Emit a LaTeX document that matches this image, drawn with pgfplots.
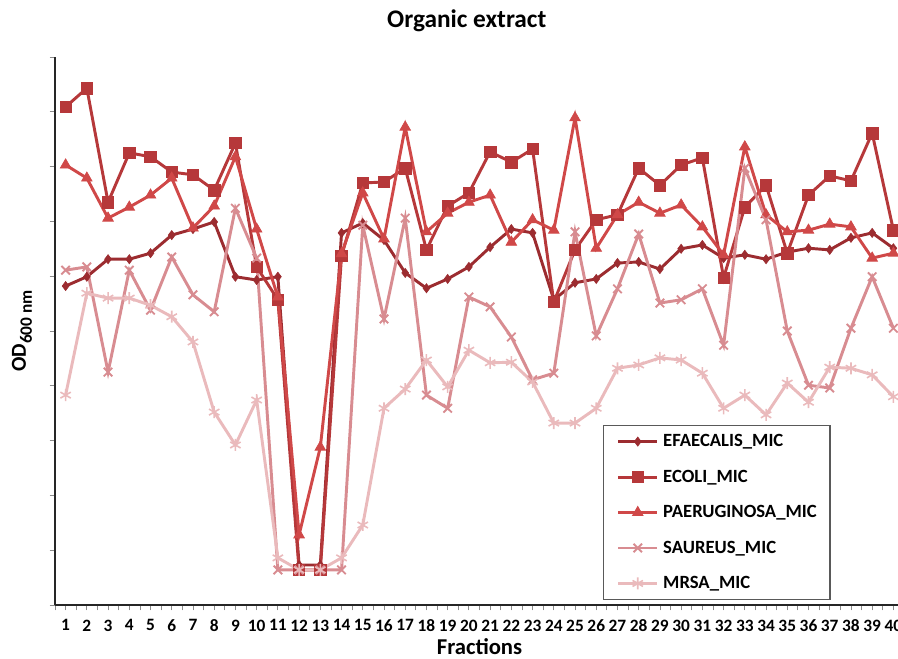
\documentclass[border=0pt]{standalone}
\usepackage{fontspec}
\setmainfont{Carlito}
\usepackage{pgfplots}
\usepackage{pgfplotstable}
\pgfplotsset{compat=1.18}

\definecolor{efa}{RGB}{156,44,48}
\definecolor{eco}{RGB}{182,56,58}
\definecolor{pae}{RGB}{208,72,72}
\definecolor{sau}{RGB}{216,140,145}
\definecolor{mrs}{RGB}{234,186,188}

% OD600 per fraction (axis units 0..10)
\pgfplotstableread{
x  efa   eco   pae   sau   mrs
1  5.82  9.09  8.03  6.11  3.83
2  5.99  9.43  7.79  6.17  5.69
3  6.31  7.35  7.06  4.25  5.60
4  6.31  8.25  7.26  6.11  5.60
5  6.42  8.18  7.48  5.38  5.47
6  6.75  7.90  7.79  6.35  5.26
7  6.86  7.85  6.88  5.66  4.80
8  6.99  7.57  7.28  5.35  3.52
9  5.99  8.43  8.18  7.24  2.92
10 5.93  6.17  6.86  6.33  3.74
11 5.99  5.57  5.62  0.64  0.86
12 0.73  0.64  1.28  0.64  0.64
13 0.73  0.64  2.88  0.64  0.64
14 6.79  6.37  6.41  0.64  0.86
15 6.97  7.70  7.52  6.93  1.46
16 6.66  7.72  6.68  5.22  3.59
17 6.06  7.97  8.72  7.06  3.94
18 5.78  6.48  6.81  3.83  4.47
19 5.95  7.28  7.15  3.59  3.98
20 6.17  7.52  7.35  5.62  4.65
21 6.53  8.27  7.48  5.44  4.42
22 6.86  8.08  6.62  4.89  4.43
23 6.79  8.32  7.03  4.11  4.07
24 5.57  5.53  6.84  4.23  3.32
25 5.88  6.48  8.89  6.81  3.32
26 5.95  7.03  6.51  4.91  3.59
27 6.24  7.12  7.12  5.77  4.32
28 6.26  7.97  7.35  6.77  4.38
29 6.13  7.66  7.15  5.51  4.51
30 6.50  8.03  7.30  5.57  4.47
31 6.57  8.16  6.90  5.77  4.23
32 6.33  5.97  6.39  4.74  3.59
33 6.39  7.26  8.36  7.97  3.83
34 6.31  7.66  7.12  7.03  3.47
35 6.44  6.42  6.81  5.00  4.05
36 6.51  7.48  6.84  4.01  3.70
37 6.48  7.83  6.95  3.96  4.34
38 6.70  7.74  6.90  5.05  4.32
39 6.79  8.61  6.33  5.99  4.20
40 6.51  6.84  6.42  5.05  3.80
}\data

\begin{document}
\begin{tikzpicture}
\begin{axis}[
  scale only axis,
  width=636.75pt, height=411pt,
  xmin=0.5, xmax=40.5, ymin=0, ymax=10,
  axis x line=bottom, axis y line=left,
  axis line style={-, line width=1.1pt, black!85},
  xtick={1,...,40},
  minor xtick={0.5,1.5,...,40.5},
  ytick={0,...,10}, yticklabels={},
  tick align=outside,
  major tick length=4pt, minor tick length=4pt,
  tick style={black!45, line width=0.6pt},
  /pgf/number format/assume math mode=true,
  xticklabel style={font=\bfseries\fontsize{13}{13}\selectfont, yshift=-3.5pt},
  every axis title shift=0pt,
  title={Organic extract},
  title style={at={(0.485,1.0529)}, anchor=base, font=\bfseries\fontsize{19}{19}\selectfont},
  xlabel={Fractions},
  xlabel style={at={(0.5,-0.0912)}, anchor=base, font=\bfseries\fontsize{17}{17}\selectfont},
  ylabel={OD{\fontsize{13}{13}\selectfont\raisebox{-4.5pt}{600 nm}}},
  ylabel style={at={(-0.0342,0.5)}, anchor=base, font=\bfseries\fontsize{16}{16}\selectfont},
  every axis plot/.append style={line width=2.2pt},
  legend style={at={(0.6455,0.3285)}, anchor=north west,
    draw=black!65, line width=0.9pt,
    font=\bfseries\fontsize{14}{14}\selectfont,
    nodes={inner sep=0pt, text height=10pt, text depth=2pt},
    row sep=14.6pt, column sep=3.5pt,
    inner xsep=10pt, inner ysep=6pt},
  legend cell align=left,
  legend image code/.code={\draw[mark repeat=2,mark phase=2,#1] plot coordinates {(0pt,0pt) (14.5pt,0pt) (29pt,0pt)};},
]
\addplot[efa, mark=diamond*, mark size=3.4pt, mark options={solid, fill=efa, line width=0.5pt}] table[x=x, y=efa] {\data};
\addplot[eco, mark=square*, mark size=4.3pt, mark options={solid, fill=eco, line width=0.5pt}] table[x=x, y=eco] {\data};
\addplot[pae, mark=triangle*, mark size=4.6pt, mark options={solid, fill=pae, line width=0.5pt}] table[x=x, y=pae] {\data};
\addplot[sau, mark=x, mark size=4.5pt, mark options={solid, line width=1.4pt}] table[x=x, y=sau] {\data};
\addplot[mrs, mark=asterisk, mark size=4.5pt, mark options={solid, line width=1.2pt}] table[x=x, y=mrs] {\data};
\legend{EFAECALIS\_MIC, ECOLI\_MIC, PAERUGINOSA\_MIC, SAUREUS\_MIC, MRSA\_MIC}
\coordinate (o) at (rel axis cs:0,0);
\coordinate (t) at (rel axis cs:1,1);
\end{axis}
\pgfresetboundingbox
\path ([shift={(-41.25pt,-40.5pt)}]o) rectangle ([shift={(-4.5pt,42.75pt)}]t);
\end{tikzpicture}
\end{document}
